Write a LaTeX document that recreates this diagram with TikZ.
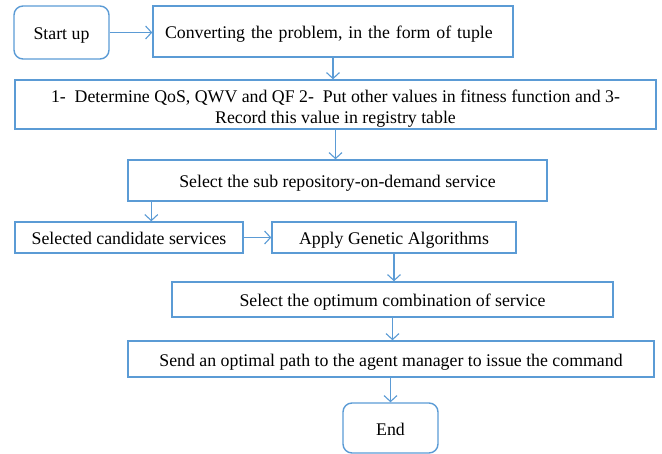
\documentclass[tikz,border=0pt]{standalone}
\usepackage{fontspec}
\setmainfont{Liberation Serif}
\usetikzlibrary{arrows.meta}
\definecolor{flowblue}{RGB}{91,155,213}
\begin{document}
\begin{tikzpicture}[x=1pt,y=-1pt,
  box/.style={draw=flowblue, line width=1.4pt, rectangle, inner sep=0pt, align=center,
    font=\fontsize{17.8}{21}\selectfont, text height=14.6pt, text depth=0pt},
  term/.style={box, rounded corners=9pt},
  flow/.style={draw=flowblue, line width=1.1pt, -{Straight Barb[length=6pt,width=13pt]}}]
\useasboundingbox (0,0) rectangle (662,454);
\node[term, minimum width=95, minimum height=53] (start) at (61.5,32.5) {Start up};
\node[box, minimum width=360, minimum height=51, text width=336, align=left] (conv) at (333,31.5)
  {Converting the problem, in the form of tuple};
\node[box, minimum width=641, minimum height=49, text height=39pt] (det) at (335.5,104.5)
  {1-\ \ Determine QoS, QWV and QF 2-\ \ Put other values in fitness function and 3-\\
   Record this value in registry table};
\node[box, minimum width=419, minimum height=41] (sub) at (337.5,180.5)
  {Select the sub repository-on-demand service};
\node[box, minimum width=228, minimum height=31] (cand) at (129,237.5)
  {Selected candidate services};
\node[box, minimum width=244, minimum height=31] (ga) at (394,237.5)
  {Apply Genetic Algorithms};
\node[box, minimum width=441, minimum height=35] (opt) at (392.5,299.5)
  {Select the optimum combination of service};
\node[box, minimum width=526, minimum height=36] (send) at (391,359)
  {Send an optimal path to the agent manager to issue the command};
\node[term, minimum width=95, minimum height=50] (end) at (390.5,428) {End};

\draw[flow] (start.east) -- (start.east -| conv.west);
\draw[flow] (conv.south) -- (conv.south |- det.north);
\draw[flow] (det.south) -- (det.south |- sub.north);
\draw[flow] ([xshift=24pt]sub.south west) -- ([xshift=24pt]sub.south west |- cand.north);
\draw[flow] (cand.east) -- (cand.east -| ga.west);
\draw[flow] (ga.south) -- (ga.south |- opt.north);
\draw[flow] (opt.south) -- (opt.south |- send.north);
\draw[flow] (send.south -| end.north) -- (end.north);
\end{tikzpicture}
\end{document}
